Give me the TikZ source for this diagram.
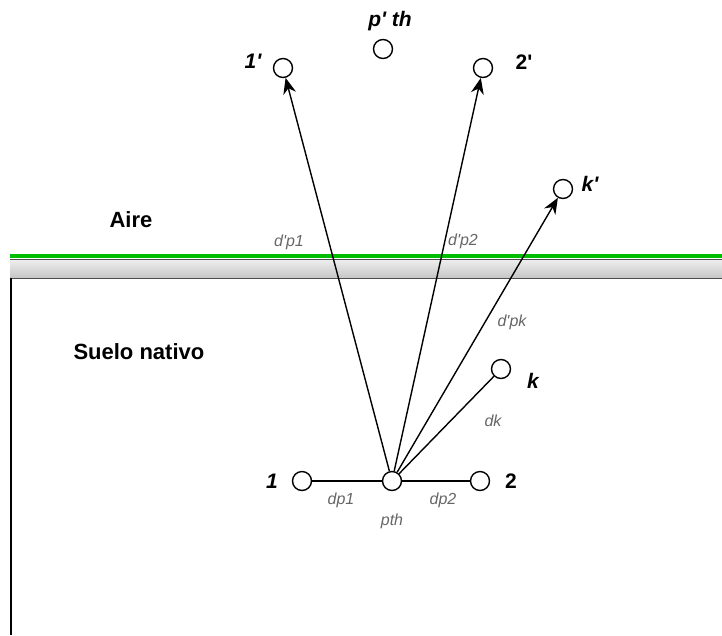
\documentclass[tikz,border=0pt]{standalone}
\usepackage{fontspec}
\setmainfont{Liberation Sans}
\usepackage{tikz}
\usetikzlibrary{arrows.meta, positioning}

\newcommand{\ap}{\textquotesingle}

\tikzset{
  punto/.style={circle, draw, line width=1.4pt, minimum size=19pt, inner sep=0pt},
  nombre/.style={font=\fontsize{21}{24}\selectfont\bfseries\itshape},
  dist/.style={font=\fontsize{16}{19}\selectfont\itshape, text=gray!80!black},
  zona/.style={font=\fontsize{22}{25}\selectfont\bfseries, anchor=west},
  rayo/.style={line width=1.4pt, -{Stealth[length=16pt, width=13pt]}}
}

\begin{document}
\begin{tikzpicture}[x=1pt, y=-1pt]
        \useasboundingbox (0,0) rectangle (722,635);

        % Superficie
        \fill[top color=gray!12, bottom color=gray!45] (10,259) rectangle (722,278);
        \draw[gray!60!black, line width=1pt] (10,259) -- (722,259);
        \draw[gray!60!black, line width=1pt] (10,278) -- (722,278);
        \draw[green!75!black, line width=4pt] (10,256) -- (722,256);
        \draw[black, line width=1.5pt] (11,278) -- (11,635);

        % Zonas
        \node[zona] (aire) at (106,220) {Aire};
        \node[zona] (suelo) at (70,352) {Suelo nativo};

        % Puntos en el suelo
        \node[punto] (pth) at (392,481) {};
        \node[punto] (p1) at (302,481) {};
        \node[punto] (p2) at (480,481) {};
        \node[punto] (pk) at (501,369) {};

        % Puntos imagen
        \node[punto] (q1) at (283,68) {};
        \node[punto] (q2) at (483,68) {};
        \node[punto] (qth) at (383,49) {};
        \node[punto] (qk) at (563,189) {};

        % Nombres
        \node[nombre] (n1) at (272,481) {1};
        \node[nombre, font=\fontsize{21}{24}\selectfont\bfseries] (n2) at (511,481) {2};
        \node[nombre] (nk) at (533,381) {k};
        \node[nombre] (nq1) at (253,61) {1\ap};
        \node[nombre, font=\fontsize{21}{24}\selectfont\bfseries] (nq2) at (524,62) {2\ap};
        \node[nombre] (nqth) at (390,21) {p\ap{} th};
        \node[nombre] (nqk) at (590,184) {k\ap};

        % Segmentos
        \draw[line width=1.4pt] (p1) -- (pth) -- (p2);
        \draw[line width=1.4pt] (pth) -- (pk);
        \draw[rayo] (pth) -- (q1);
        \draw[rayo] (pth) -- (q2);
        \draw[rayo] (pth) -- (qk);

        % Distancias
        \node[dist] (dp1) at (341,500) {dp1};
        \node[dist] (dp2) at (443,500) {dp2};
        \node[dist] (lpth) at (392,521) {pth};
        \node[dist] (dk) at (493,421) {dk};
        \node[dist] (dq1) at (289,242) {d\ap p1};
        \node[dist] (dq2) at (463,241) {d\ap p2};
        \node[dist] (dqk) at (512,322) {d\ap pk};
    \end{tikzpicture}
\end{document}
